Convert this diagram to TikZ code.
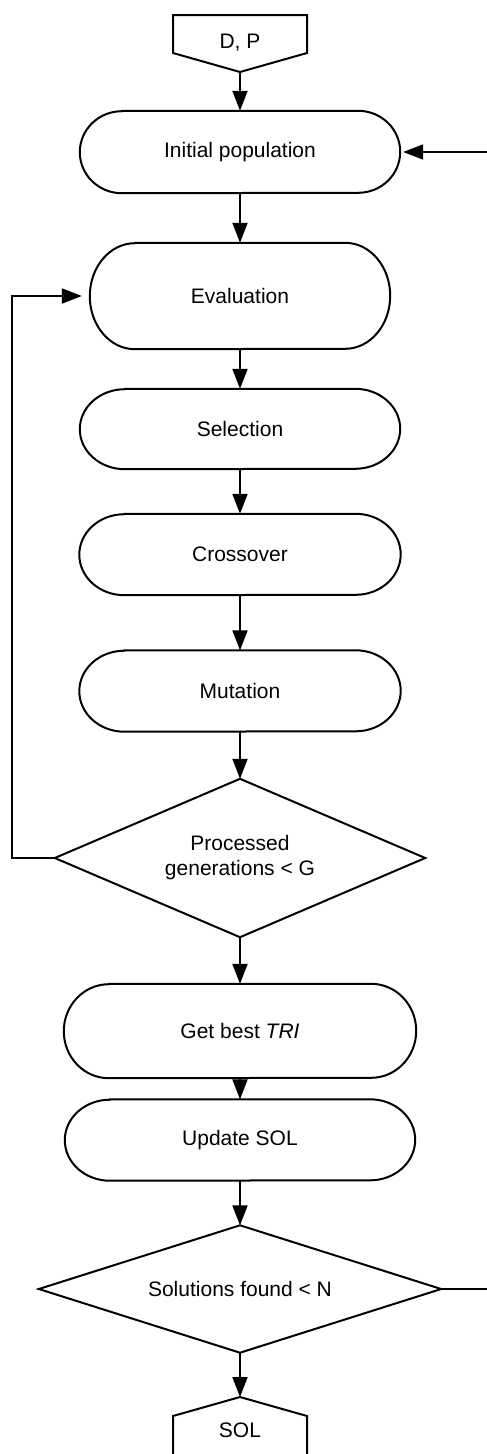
\documentclass[tikz,border=0pt]{standalone}
\usepackage{fontspec}
\setmainfont{Liberation Sans}
\usetikzlibrary{arrows.meta}
\tikzset{
  line/.style={line width=2pt, line join=miter},
  arr/.style={line width=2pt, -{Triangle[length=20pt,width=15pt]}},
  lbl/.style={font=\fontsize{21}{25}\selectfont, align=center, inner sep=0pt},
  capsule/.style={lbl, rectangle, draw=none},
  decision/.style={lbl, rectangle, draw=none},
}
\newcommand\fcCapsule[7]{%
  \node[capsule, minimum width=#4pt, minimum height=#5pt] (#1) at (#2,#3) {#7};
  \draw[line] ([xshift=#6pt]#1.north west) -- ([xshift=-#6pt]#1.north east)
     arc[start angle=90, end angle=-90, x radius=#6pt, y radius={#5pt/2}]
     -- ([xshift=#6pt]#1.south west)
     arc[start angle=270, end angle=90, x radius=#6pt, y radius={#5pt/2}] -- cycle;
}
\newcommand\fcDecision[6]{%
  \node[decision, minimum width=#4pt, minimum height=#5pt] (#1) at (#2,#3) {#6};
  \draw[line] (#1.north) -- (#1.east) -- (#1.south) -- (#1.west) -- cycle;
}
\begin{document}
\begin{tikzpicture}[x=1pt,y=-1pt]
\useasboundingbox (0,0) rectangle (487,1454);
% input
\draw[line] (173,15) -- (307,15) -- (307,53) -- (240,72) -- (173,53) -- cycle;
\node[lbl] (dp) at (240,43) {D, P};
\coordinate (dpb) at (240,72);
% capsules
\fcCapsule{init}{240}{152}{320}{82}{42}{Initial population}
\fcCapsule{eval}{240}{296}{300}{106}{45}{Evaluation}
\fcCapsule{sel}{240}{429}{320}{80}{45}{Selection}
\fcCapsule{cross}{240}{554.5}{321}{81}{45}{Crossover}
\fcCapsule{mut}{240}{691}{321}{81}{45}{Mutation}
\fcDecision{d1}{240}{858}{370}{158}{Processed\\generations < G}
\fcCapsule{best}{240}{1031}{352}{94}{45}{Get best \textit{TRI}}
\fcCapsule{upd}{240}{1140}{350}{81}{45}{Update SOL}
\fcDecision{d2}{240}{1289}{402}{127}{Solutions found < N}
% output
\draw[line] (173,1454) -- (173,1416) -- (240,1397) -- (307,1416) -- (307,1454);
\node[lbl] (sol) at (240,1430) {SOL};
\coordinate (solt) at (240,1397);
% connectors
\draw[arr] (dpb) -- (init.north);
\draw[arr] (init.south) -- (eval.north);
\draw[arr] (eval.south) -- (sel.north);
\draw[arr] (sel.south) -- (cross.north);
\draw[arr] (cross.south) -- (mut.north);
\draw[arr] (mut.south) -- (d1.north);
\draw[arr] (d1.south) -- (best.north);
\draw[arr] (best.south) -- (upd.north);
\draw[arr] (upd.south) -- (d2.north);
\draw[arr] (d2.south) -- (solt);
\draw[arr, shorten >=8pt] (d1.west) -- ++(-43,0) |- (eval.west);
\coordinate (rin) at (487,152);
\coordinate (rout) at (487,1289);
\draw[line] (d2.east) -- (rout);
\draw[arr, shorten >=3pt] (rin) -- (init.east);
\end{tikzpicture}
\end{document}
